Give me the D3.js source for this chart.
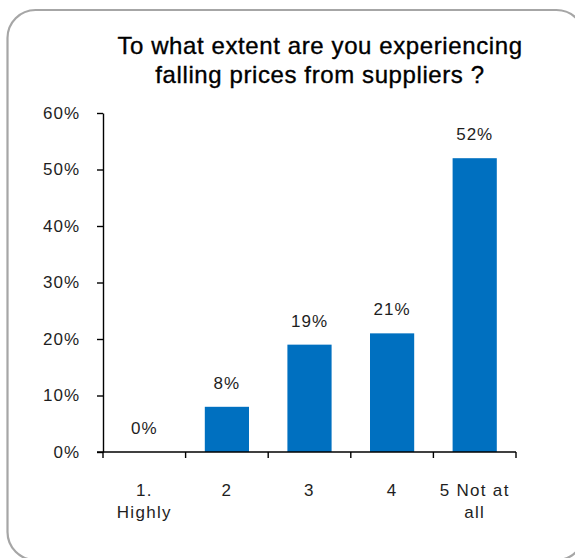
<!DOCTYPE html>
<html>
<head>
<meta charset="utf-8">
<script src="https://cdn.jsdelivr.net/npm/d3@7"></script>
<style>
  html, body { margin: 0; padding: 0; background: #fff; overflow: hidden; }
  svg { display: block; font-family: "Liberation Sans", Arial, sans-serif; }
</style>
</head>
<body>
<svg id="chart" width="575" height="558"></svg>
<script>
// Survey answers: share of respondents per level
const categories = ["1. Highly", "2", "3", "4", "5 Not at all"];
const categoryLines = [["1.", "Highly"], ["2"], ["3"], ["4"], ["5 Not at", "all"]];
const values = [0, 8, 19, 21, 52];
const yTicks = [0, 10, 20, 30, 40, 50, 60];
const titleLines = ["To what extent are you experiencing", "falling prices from suppliers ?"];

const svg = d3.select("#chart");

// Rounded frame around the whole chart (runs off the right and bottom edges)
svg.append("rect")
  .attr("x", 7.5).attr("y", 10)
  .attr("width", 577).attr("height", 550)
  .attr("rx", 28).attr("ry", 28)
  .attr("fill", "#fff")
  .attr("stroke", "#a6a6a6")
  .attr("stroke-width", 2.2);

const plot = { left: 103, right: 516, top: 113, bottom: 452 };

const x = d3.scaleBand()
  .domain(categories)
  .range([plot.left, plot.right])
  .paddingInner(0.465)
  .paddingOuter(0.2325);

const y = d3.scaleLinear()
  .domain([0, 60])
  .range([plot.bottom, plot.top]);

const textColor = "#1e1e1e";

// Title
svg.append("text")
  .attr("text-anchor", "middle")
  .attr("font-size", 24)
  .attr("letter-spacing", 0.6)
  .attr("fill", "#000")
  .attr("stroke", "#000")
  .attr("stroke-width", 0.35)
  .selectAll("tspan")
  .data(titleLines)
  .join("tspan")
  .attr("x", 320)
  .attr("y", (d, i) => 54 + i * 29)
  .text(d => d);

// Bars
svg.append("g")
  .selectAll("rect")
  .data(values)
  .join("rect")
  .attr("x", (d, i) => x(categories[i]))
  .attr("y", d => y(d))
  .attr("width", x.bandwidth())
  .attr("height", d => y(0) - y(d))
  .attr("fill", "#0070c0");

// Value labels above the bars
svg.append("g")
  .selectAll("text")
  .data(values)
  .join("text")
  .attr("x", (d, i) => x(categories[i]) + x.bandwidth() / 2)
  .attr("y", d => y(d) - 18)
  .attr("text-anchor", "middle")
  .attr("font-size", 17)
  .attr("letter-spacing", 1)
  .attr("fill", textColor)
  .text(d => d + "%");

// Y axis
const yAxis = d3.axisLeft(y)
  .tickValues(yTicks)
  .tickFormat(d => d + "%")
  .tickSize(6)
  .tickSizeOuter(0)
  .tickPadding(17);

const gy = svg.append("g")
  .attr("transform", `translate(${plot.left},0)`)
  .call(yAxis);
gy.select(".domain").attr("stroke", "#000").attr("stroke-width", 1.4);
gy.selectAll(".tick line").attr("stroke", "#000").attr("stroke-width", 1.4);
gy.selectAll(".tick text")
  .attr("font-size", 17)
  .attr("letter-spacing", 1)
  .attr("fill", textColor)
  .attr("font-family", "Liberation Sans, Arial, sans-serif");

// X axis: ticks on the category boundaries
const boundaries = categories.map(c => x(c) - x.step() * x.paddingInner() / 2);
boundaries.push(plot.right);
const gx = svg.append("g");
gx.append("line")
  .attr("x1", plot.left - 6).attr("x2", plot.right)
  .attr("y1", plot.bottom).attr("y2", plot.bottom)
  .attr("stroke", "#000").attr("stroke-width", 1.4);
gx.selectAll("line.tick")
  .data(boundaries)
  .join("line")
  .attr("class", "tick")
  .attr("x1", d => d).attr("x2", d => d)
  .attr("y1", plot.bottom).attr("y2", plot.bottom + 6)
  .attr("stroke", "#000").attr("stroke-width", 1.4);

// Category labels
gx.selectAll("text")
  .data(categoryLines)
  .join("text")
  .attr("text-anchor", "middle")
  .attr("font-size", 17)
  .attr("letter-spacing", 1.3)
  .attr("fill", textColor)
  .each(function (lines, i) {
    const cx = x(categories[i]) + x.bandwidth() / 2;
    d3.select(this).selectAll("tspan")
      .data(lines)
      .join("tspan")
      .attr("x", cx)
      .attr("y", (d, j) => 496 + j * 22)
      .text(d => d);
  });
</script>
</body>
</html>
